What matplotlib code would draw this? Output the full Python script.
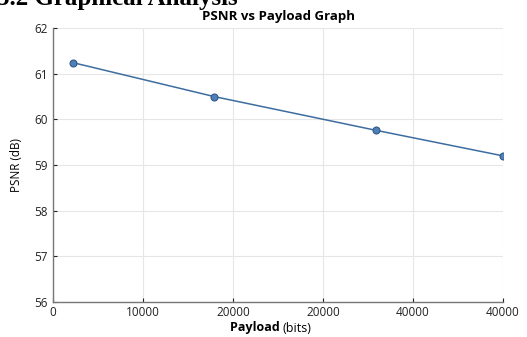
import matplotlib
matplotlib.use('Agg')
import matplotlib.pyplot as plt

# data
payload = [1800, 14300, 28700, 40000]
psnr = [61.24, 60.50, 59.76, 59.20]
x_ticks = [0, 8000, 16000, 24000, 32000, 40000]
x_tick_labels = ['0', '10000', '20000', '20000', '40000', '40000']
y_ticks = [56, 57, 58, 59, 60, 61, 62]

plt.rcParams['font.family'] = ['Open Sans', 'DejaVu Sans']

fig = plt.figure(figsize=(5.27, 3.37), dpi=100)
ax = fig.add_axes([53/527, 1-302/337, 450/527, 274/337])

ax.plot(payload, psnr, color='#3d6d9e', linewidth=1.1, marker='o', markersize=5,
        markerfacecolor='#4f81b8', markeredgecolor='#2f5a88', markeredgewidth=0.8, zorder=3)

ax.set_xlim(0, 40000)
ax.set_ylim(56, 62)
ax.set_xticks(x_ticks)
ax.set_xticklabels(x_tick_labels)
ax.set_yticks(y_ticks)
ax.tick_params(labelsize=8.5, colors='#222222', length=3, width=0.8, direction='in')
ax.tick_params(axis='x', pad=3)
ax.grid(True, color='#e6e6e6', linewidth=0.8)
ax.set_axisbelow(True)
for s in ['top', 'right']:
    ax.spines[s].set_visible(False)
for s in ['left', 'bottom']:
    ax.spines[s].set_color('#777777')
    ax.spines[s].set_linewidth(1.0)

ax.set_title('PSNR vs Payload Graph', fontsize=9.5, fontweight='bold', pad=6)
ax.set_ylabel('PSNR (dB)', fontsize=8.5, labelpad=8)

# x label: bold "Payload" + normal "(bits)"
fig.text(0.537, 1-328/337, 'Payload ', fontsize=9, fontweight='bold', ha='right', va='center')
fig.text(0.537, 1-328/337, '(bits)', fontsize=9, ha='left', va='center')

# heading of the document, cut at the top edge as in the source page
fig.text(-0.005, 1-5/337, '5.2 Graphical Analysis', fontsize=18, fontweight='bold',
         family='Liberation Serif', ha='left', va='baseline')

fig.savefig('out.png', dpi=100)
